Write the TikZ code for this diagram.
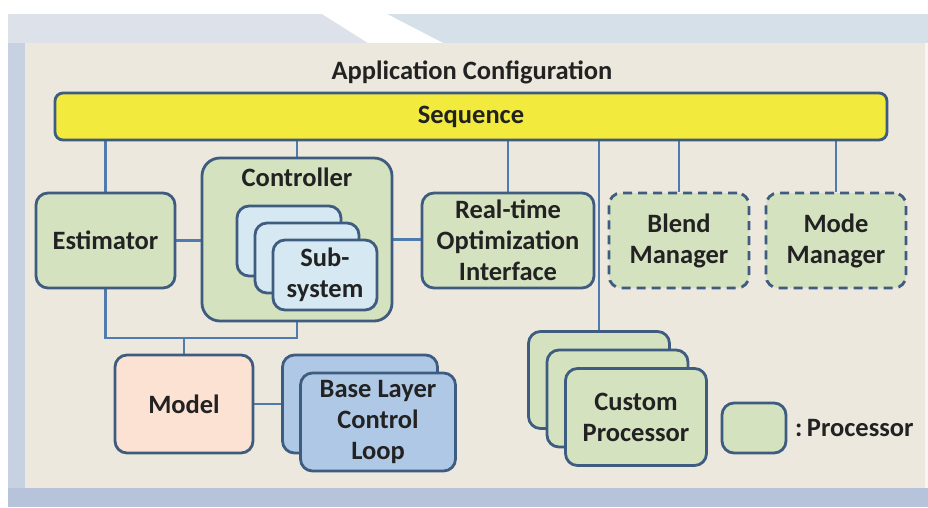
\documentclass[tikz,border=0pt]{standalone}
\usepackage{fontspec}
\setmainfont{Carlito}
\definecolor{bd}{HTML}{3E5C80}
\definecolor{ln}{HTML}{4F7BB0}
\definecolor{grn}{HTML}{D5E2C0}
\definecolor{sublue}{HTML}{D6E8F2}
\definecolor{blblue}{HTML}{AFC8E6}
\definecolor{peach}{HTML}{FCE2D2}
\definecolor{yel}{HTML}{F2EA3C}
\definecolor{beige}{HTML}{ECE8DE}
\definecolor{frame}{HTML}{C8D1E2}
\definecolor{topband}{HTML}{DCE1EA}
\definecolor{topband2}{HTML}{D6E0E8}
\definecolor{botband}{HTML}{B6C3DA}
\definecolor{txt}{HTML}{222222}
\pgfdeclarelayer{bg}
\pgfdeclarelayer{lines}
\pgfsetlayers{bg,lines,main}
\begin{document}
\begin{tikzpicture}[x=1pt,y=-1pt,
  txtfont/.style={font=\fontsize{26.5pt}{31pt}\selectfont\bfseries, text=txt},
  box/.style={draw=bd, line width=2.8pt, rounded corners=12pt, fill=grn,
    inner sep=0pt, align=center, txtfont},
  dashbox/.style={box, dash pattern=on 9pt off 6pt},
  conn/.style={draw=ln, line width=2.8pt},
  label/.style={inner sep=0pt, align=center, txtfont}
]
\useasboundingbox (0,0) rectangle (928,507);
% background
\begin{pgfonlayer}{bg}
\fill[white] (0,0) rectangle (928,507);
\fill[frame] (8,14) rectangle (928,507);
\fill[topband] (8,14) rectangle (928,43);
\fill[topband2] (387,14) rectangle (928,43);
\fill[white] (322,14) -- (387,14) -- (443,43) -- (368,43) -- cycle;
\fill[botband] (8,488) rectangle (928,507);
\fill[beige] (25,43) rectangle (925,488);
\fill[white!60!beige] (925,43) rectangle (928,488);
\end{pgfonlayer}

% title and sequence
\node[label] (title) at (472,72) {Application Configuration};
\node[box, fill=yel, rounded corners=8pt, minimum width=832pt, minimum height=47pt] (seq) at (471,116.5) {Sequence};

% boxes
\node[box, minimum width=139pt, minimum height=95pt] (est) at (105.5,240.5) {Estimator};
\node[box, rounded corners=18pt, minimum width=190pt, minimum height=163pt] (ctrl) at (297,239.5) {};
\node[label] (ctrltxt) at (297,177) {Controller};
\node[box, fill=sublue, minimum width=104pt, minimum height=70pt] (sub1) at (289,241) {};
\node[box, fill=sublue, minimum width=104pt, minimum height=70pt] (sub2) at (307,258) {};
\node[box, fill=sublue, minimum width=104pt, minimum height=70pt] (sub3) at (325,275) {Sub-\\system};
\node[box, minimum width=172pt, minimum height=95pt] (rto) at (508,240.5) {Real-time\\Optimization\\Interface};
\node[dashbox, minimum width=140pt, minimum height=95pt] (blend) at (679,240.5) {Blend\\Manager};
\node[dashbox, minimum width=140pt, minimum height=95pt] (mode) at (836,240.5) {Mode\\Manager};

\node[box, fill=peach, minimum width=138pt, minimum height=98pt] (model) at (184,404) {Model};
\node[box, fill=blblue, minimum width=155pt, minimum height=98pt] (bl1) at (360,404) {};
\node[box, fill=blblue, minimum width=155pt, minimum height=98pt] (bl2) at (378,422) {Base Layer\\Control\\Loop};

\node[box, minimum width=141pt, minimum height=97pt] (cp1) at (599,380) {};
\node[box, minimum width=141pt, minimum height=97pt] (cp2) at (617.5,398.5) {};
\node[box, minimum width=141pt, minimum height=97pt] (cp3) at (636,417) {Custom\\Processor};

\node[box, minimum width=64pt, minimum height=50pt] (leg) at (754,428) {};
\node[label, anchor=west] (legtxt) at (795,428) {:\,Processor};

% connectors
\begin{pgfonlayer}{lines}
\draw[conn] (est.north |- seq.south) -- (est.north);
\draw[conn] (ctrl.north |- seq.south) -- (ctrl.north);
\draw[conn] (rto.north |- seq.south) -- (rto.north);
\draw[conn] (cp1.north |- seq.south) -- (cp1.north);
\draw[conn] (blend.north |- seq.south) -- (blend.north);
\draw[conn] (mode.north |- seq.south) -- (mode.north);
\draw[conn] (est.east) -- (est.east -| ctrl.west);
\draw[conn] (ctrl.east) -- (ctrl.east -| rto.west);
\coordinate (j) at (184,338);
\draw[conn] (est.south) |- (j) -| (ctrl.south);
\draw[conn] (j) -- (model.north);
\draw[conn] (model.east) -- (model.east -| bl1.west);
\end{pgfonlayer}
\end{tikzpicture}
\end{document}
